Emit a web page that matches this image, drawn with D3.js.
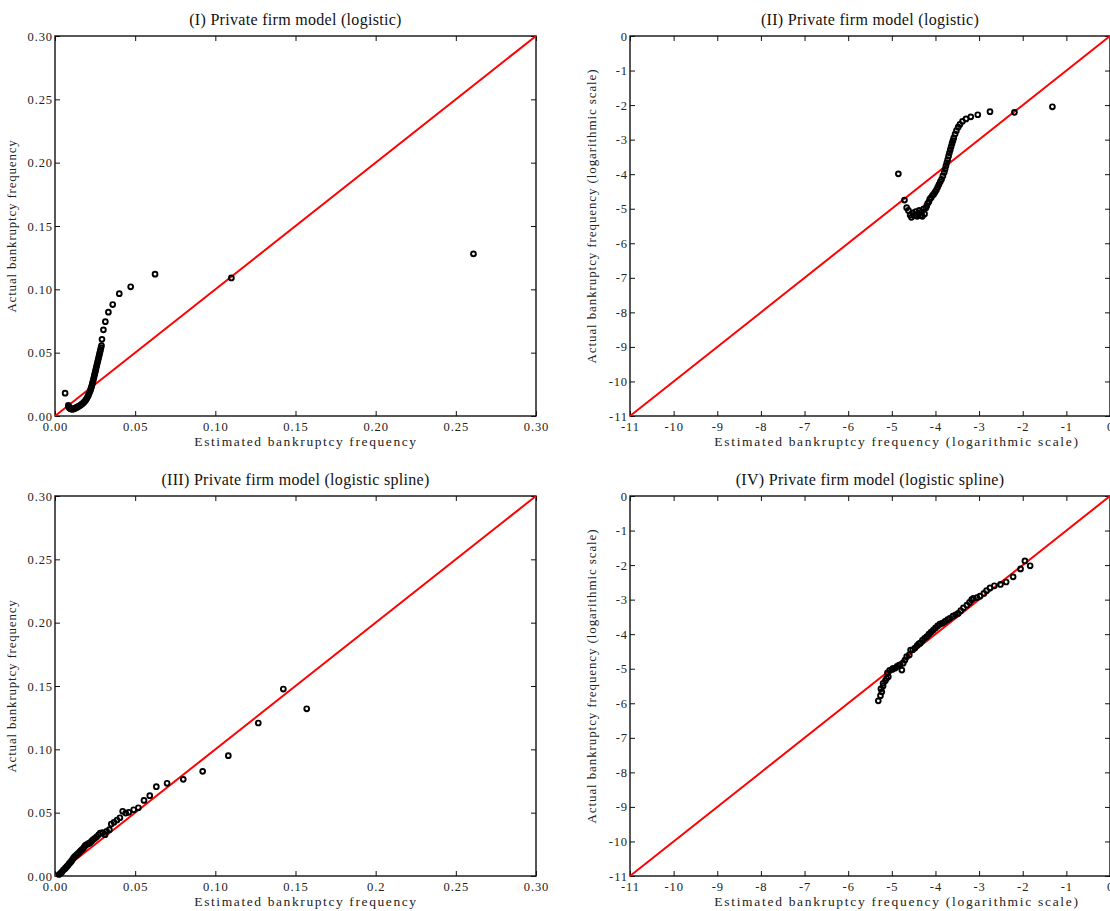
<!DOCTYPE html>
<html><head><meta charset="utf-8">
<script src="https://cdn.jsdelivr.net/npm/d3@7"></script>
<style>
body{margin:0;background:#fff;}
svg{display:block;font-family:"Liberation Serif","Times New Roman",serif;}
</style></head><body>
<svg id="c" width="1110" height="911"></svg>
<script>
// ---- DATA ----
const titles = ["(I) Private firm model (logistic)","(II) Private firm model (logistic)","(III) Private firm model (logistic spline)","(IV) Private firm model (logistic spline)"];
const linTicks = [0,0.05,0.10,0.15,0.20,0.25,0.30];
const linTickLabelsTop = ["0.00","0.05","0.10","0.15","0.20","0.25","0.30"];
const linTickLabelsBottomX = ["0.00","0.05","0.10","0.15","0.2","0.25","0.30"];
const logTicks = [-11,-10,-9,-8,-7,-6,-5,-4,-3,-2,-1,0];
const logTickLabels = ["-11","-10","-9","-8","-7","-6","-5","-4","-3","-2","-1","0"];

// Panel I: [estimated, actual]
const p1 = [[0.0063,0.018],[0.0083,0.0085],[0.0085,0.0075],[0.0088,0.0068],[0.0092,0.0062],[0.0097,0.0058],[0.0102,0.0055],[0.0108,0.0054],[0.0114,0.0055],[0.012,0.0058],[0.0126,0.0062],[0.0132,0.0066],[0.0138,0.007],[0.0144,0.0074],[0.015,0.0078],[0.0156,0.0083],[0.0162,0.0088],[0.0168,0.0094],[0.0174,0.01],[0.018,0.0108],[0.0186,0.0116],[0.0192,0.0126],[0.0197,0.0136],[0.0202,0.0148],[0.0207,0.016],[0.0211,0.0172],[0.0215,0.0185],[0.0219,0.0198],[0.0223,0.0212],[0.0227,0.0226],[0.023,0.024],[0.0233,0.0255],[0.0236,0.027],[0.0239,0.0285],[0.0242,0.03],[0.0245,0.0316],[0.0248,0.0332],[0.0251,0.0348],[0.0254,0.0364],[0.0257,0.038],[0.026,0.0396],[0.0263,0.0412],[0.0266,0.0428],[0.0269,0.0444],[0.0272,0.046],[0.0275,0.0476],[0.0278,0.0492],[0.0281,0.0508],[0.0284,0.0524],[0.0287,0.054],[0.029,0.0556],[0.0293,0.0605],[0.0302,0.068],[0.0314,0.0745],[0.0333,0.082],[0.036,0.088],[0.0401,0.0966],[0.0472,0.102],[0.0624,0.112],[0.110,0.109],[0.261,0.128]];

// Panel II: [log estimated, log actual]
const p2 = [[-4.85,-3.99],[-4.71,-4.75],[-4.66,-4.97],[-4.62,-5.05],[-4.58,-5.18],[-4.55,-5.25],[-4.52,-5.12],[-4.48,-5.2],[-4.45,-5.08],[-4.42,-5.22],[-4.40,-5.15],[-4.37,-5.05],[-4.35,-5.2],[-4.32,-5.1],[-4.30,-5.22],[-4.27,-5.0],[-4.25,-5.15],[-4.22,-4.98],[-4.2,-4.92],[-4.18,-4.85],[-4.15,-4.8],[-4.13,-4.72],[-4.1,-4.68],[-4.07,-4.62],[-4.04,-4.58],[-4.01,-4.52],[-3.98,-4.46],[-3.95,-4.38],[-3.92,-4.3],[-3.89,-4.22],[-3.86,-4.15],[-3.83,-4.05],[-3.80,-3.95],[-3.78,-3.86],[-3.76,-3.76],[-3.74,-3.67],[-3.72,-3.58],[-3.70,-3.48],[-3.68,-3.38],[-3.66,-3.29],[-3.64,-3.2],[-3.62,-3.11],[-3.60,-3.03],[-3.58,-2.95],[-3.55,-2.84],[-3.52,-2.74],[-3.48,-2.64],[-3.44,-2.56],[-3.38,-2.47],[-3.30,-2.40],[-3.19,-2.34],[-3.03,-2.28],[-2.75,-2.19],[-2.19,-2.21],[-1.32,-2.05]];

// Panel III: [estimated, actual]
const p3 = [[0.0025,0.0012],[0.0035,0.0021],[0.0042,0.003],[0.0052,0.0047],[0.006,0.0055],[0.0066,0.0064],[0.0073,0.0074],[0.008,0.0083],[0.0087,0.0095],[0.0094,0.0105],[0.0101,0.0115],[0.0108,0.0128],[0.0114,0.014],[0.012,0.015],[0.0127,0.0158],[0.0134,0.0165],[0.014,0.0172],[0.0146,0.0179],[0.0153,0.0188],[0.016,0.0198],[0.0168,0.0208],[0.0177,0.0219],[0.0184,0.0232],[0.019,0.0242],[0.0198,0.0248],[0.0208,0.0255],[0.0218,0.0262],[0.0228,0.0275],[0.0238,0.0288],[0.0249,0.0298],[0.026,0.031],[0.0272,0.0325],[0.0282,0.0338],[0.0297,0.0342],[0.0312,0.0326],[0.0322,0.0353],[0.0339,0.0366],[0.0351,0.041],[0.0368,0.0424],[0.0387,0.0442],[0.0405,0.046],[0.0422,0.0511],[0.0441,0.0497],[0.046,0.0503],[0.0491,0.0523],[0.052,0.0539],[0.0555,0.0597],[0.0591,0.0634],[0.0632,0.0705],[0.0699,0.0732],[0.080,0.0763],[0.0921,0.0826],[0.1081,0.095],[0.1268,0.1208],[0.1424,0.1476],[0.157,0.132]];

// Panel IV: [log estimated, log actual]
const p4 = [[-5.31,-5.93],[-5.26,-5.78],[-5.23,-5.67],[-5.25,-5.58],[-5.2,-5.5],[-5.2,-5.42],[-5.15,-5.35],[-5.12,-5.28],[-5.08,-5.23],[-5.1,-5.12],[-5.05,-5.05],[-4.99,-5.02],[-4.97,-4.99],[-4.92,-4.98],[-4.88,-4.93],[-4.84,-4.9],[-4.81,-4.89],[-4.77,-5.04],[-4.74,-4.84],[-4.7,-4.75],[-4.66,-4.65],[-4.6,-4.6],[-4.57,-4.46],[-4.52,-4.45],[-4.47,-4.4],[-4.42,-4.33],[-4.38,-4.28],[-4.35,-4.26],[-4.3,-4.18],[-4.25,-4.12],[-4.2,-4.07],[-4.15,-4.0],[-4.1,-3.94],[-4.05,-3.88],[-4.0,-3.82],[-3.95,-3.76],[-3.9,-3.71],[-3.84,-3.68],[-3.78,-3.63],[-3.72,-3.58],[-3.67,-3.54],[-3.6,-3.48],[-3.54,-3.44],[-3.48,-3.40],[-3.42,-3.32],[-3.36,-3.24],[-3.28,-3.16],[-3.22,-3.08],[-3.17,-3.0],[-3.13,-2.96],[-3.05,-2.94],[-2.98,-2.9],[-2.89,-2.82],[-2.83,-2.74],[-2.75,-2.66],[-2.65,-2.60],[-2.51,-2.56],[-2.38,-2.49],[-2.22,-2.34],[-2.05,-2.11],[-1.95,-1.88],[-1.83,-2.02]];

// ---- LAYOUT ----
const svg = d3.select("#c");
const panels = [
  {data:p1, x0:55, x1:536, y0:36, y1:416, log:false, title:titles[0], xl:linTickLabelsTop, ylab:"Actual bankruptcy frequency", xlab:"Estimated bankruptcy frequency", ylx:16, xlc:306},
  {data:p2, x0:630, x1:1110, y0:36, y1:416, log:true, title:titles[1], xl:logTickLabels, ylab:"Actual bankruptcy frequency (logarithmic scale)", xlab:"Estimated bankruptcy frequency (logarithmic scale)", ylx:596, xlc:897},
  {data:p3, x0:55, x1:536, y0:496, y1:876, log:false, title:titles[2], xl:linTickLabelsBottomX, ylab:"Actual bankruptcy frequency", xlab:"Estimated bankruptcy frequency", ylx:16, xlc:306},
  {data:p4, x0:630, x1:1110, y0:496, y1:876, log:true, title:titles[3], xl:logTickLabels, ylab:"Actual bankruptcy frequency (logarithmic scale)", xlab:"Estimated bankruptcy frequency (logarithmic scale)", ylx:596, xlc:897}
];

panels.forEach(p => {
  const dom = p.log ? [-11,0] : [0,0.30];
  const ticks = p.log ? logTicks : linTicks;
  const ylabels = p.log ? logTickLabels : linTickLabelsTop;
  const x = d3.scaleLinear().domain(dom).range([p.x0,p.x1]);
  const y = d3.scaleLinear().domain(dom).range([p.y1,p.y0]);
  const g = svg.append("g");

  // title
  g.append("text").attr("x",(p.x0+p.x1)/2).attr("y",p.y0-11)
    .attr("text-anchor","middle").attr("font-size",16).attr("letter-spacing",0.3).attr("fill","#111").text(p.title);

  // frame
  g.append("rect").attr("x",p.x0).attr("y",p.y0).attr("width",p.x1-p.x0).attr("height",p.y1-p.y0)
    .attr("fill","none").attr("stroke","#111").attr("stroke-width",1.4);

  // axes
  const xb = d3.axisBottom(x).tickValues(ticks).tickSize(-5).tickPadding(6).tickFormat((d,i)=>p.xl[i]);
  const xt = d3.axisTop(x).tickValues(ticks).tickSize(-5).tickFormat("");
  const yl = d3.axisLeft(y).tickValues(ticks).tickSize(-5).tickPadding(2).tickFormat((d,i)=>ylabels[i]);
  const yr = d3.axisRight(y).tickValues(ticks).tickSize(-5).tickFormat("");
  const style = s => { s.select(".domain").remove(); s.selectAll("line").attr("stroke","#111").attr("stroke-width",1);
    s.selectAll("text").attr("font-family","Liberation Serif, serif").attr("font-size",12.5).attr("fill","#222").attr("letter-spacing",0.9); };
  g.append("g").attr("transform",`translate(0,${p.y1})`).call(xb).call(style);
  g.append("g").attr("transform",`translate(0,${p.y0})`).call(xt).call(style);
  g.append("g").attr("transform",`translate(${p.x0},0)`).call(yl).call(style);
  g.append("g").attr("transform",`translate(${p.x1},0)`).call(yr).call(style);

  // axis labels
  g.append("text").attr("x",p.xlc).attr("y",p.y1+30).attr("text-anchor","middle")
    .attr("font-size",13.5).attr("letter-spacing",p.log?1.7:1.6).attr("fill","#222").text(p.xlab);
  g.append("text").attr("transform",`translate(${p.ylx},${(p.y0+p.y1)/2 - (p.log?10:0)}) rotate(-90)`).attr("text-anchor","middle")
    .attr("font-size",13).attr("letter-spacing",p.log?0.9:0.8).attr("fill","#222").text(p.ylab);

  // diagonal
  g.append("line").attr("x1",x(dom[0])).attr("y1",y(dom[0])).attr("x2",x(dom[1])).attr("y2",y(dom[1]))
    .attr("stroke","#f00").attr("stroke-width",2);

  // points
  g.append("g").selectAll("circle").data(p.data).join("circle")
    .attr("cx",d=>x(d[0])).attr("cy",d=>y(d[1])).attr("r",2.4)
    .attr("fill","none").attr("stroke","#000").attr("stroke-width",1.9);
});
</script>
</body></html>
